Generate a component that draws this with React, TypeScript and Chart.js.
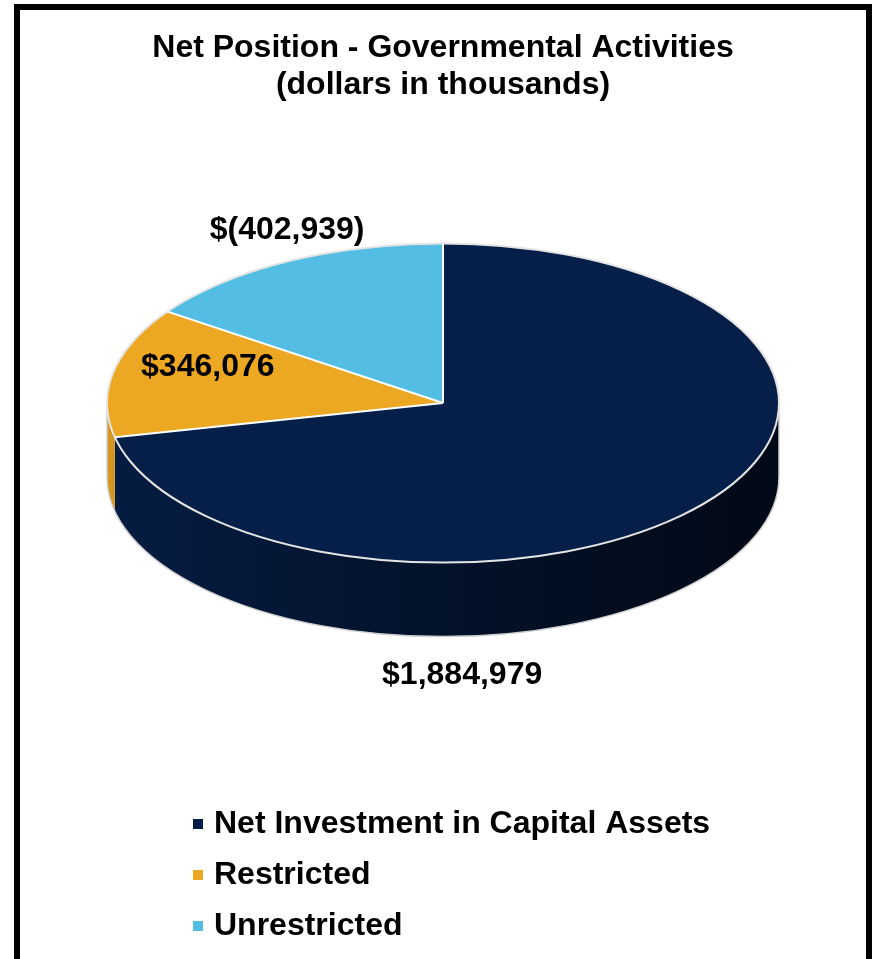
import React, { useEffect, useRef } from 'react';
import { Chart, registerables } from 'chart.js';

Chart.register(...registerables);

// ---------- data ----------
const titleLines = ['Net Position - Governmental Activities', '(dollars in thousands)'];
const categories = ['Net Investment in Capital Assets', 'Restricted', 'Unrestricted'];
const values = [1884979, 346076, -402939];

// ---------- styles ----------
const sliceColors = ['#051F49', '#EDA823', '#54BDE4'];
const FONT = '"Liberation Sans", Arial, Helvetica, sans-serif';
// label anchor relative to top-face centre, in units of (radius x, radius y)
const labelAnchors = [
  [0.057, 1.704],
  [-0.7, -0.222],
  [-0.464, -1.08],
];

function fmtMoney(v: number): string {
  const s = Math.abs(v).toLocaleString('en-US');
  return v < 0 ? `$(${s})` : `$${s}`;
}

function shade(hex: string, f: number): string {
  const n = parseInt(hex.slice(1), 16);
  const r = Math.round(((n >> 16) & 255) * f);
  const g = Math.round(((n >> 8) & 255) * f);
  const b = Math.round((n & 255) * f);
  return `rgb(${r},${g},${b})`;
}

const pie3dPlugin = {
  id: 'pie3d',
  beforeDatasetsDraw(chart: any, _args: any, opts: any) {
    const arcs = chart.getDatasetMeta(0).data as any[];
    const ctx = chart.ctx as CanvasRenderingContext2D;
    ctx.save();
    chart.$pie3dSaved = true;
    if (!arcs.length) return;
    const cx = arcs[0].x;
    const cy = arcs[0].y;
    const R = arcs[0].outerRadius;
    const ry = R * opts.tilt;
    const depth = opts.depth;
    const fy = cy - depth / 2;
    const colors = chart.data.datasets[0].backgroundColor as string[];

    // side walls (visible lower half only)
    arcs.forEach((arc: any, i: number) => {
      const a0 = Math.max(arc.startAngle, 0);
      const a1 = Math.min(arc.endAngle, Math.PI);
      if (a1 <= a0) return;
      const g = ctx.createLinearGradient(cx - R, 0, cx + R, 0);
      g.addColorStop(0, shade(colors[i], 0.9));
      g.addColorStop(0.45, shade(colors[i], 0.6));
      g.addColorStop(1, shade(colors[i], 0.3));
      ctx.beginPath();
      ctx.ellipse(cx, fy, R, ry, 0, a0, a1, false);
      ctx.ellipse(cx, fy + depth, R, ry, 0, a1, a0, true);
      ctx.closePath();
      ctx.fillStyle = g;
      ctx.fill();
    });
    ctx.beginPath();
    ctx.moveTo(cx + R, fy);
    ctx.ellipse(cx, fy + depth, R, ry, 0, 0, Math.PI, false);
    ctx.lineTo(cx - R, fy);
    ctx.strokeStyle = '#CFCFCF';
    ctx.lineWidth = 1.5;
    ctx.stroke();

    // project the library's circular pie onto the tilted top face
    ctx.translate(cx, fy);
    ctx.scale(1, opts.tilt);
    ctx.translate(-cx, -cy);
  },
  afterDatasetsDraw(chart: any, _args: any, opts: any) {
    const ctx = chart.ctx as CanvasRenderingContext2D;
    if (chart.$pie3dSaved) {
      ctx.restore();
      chart.$pie3dSaved = false;
    }
    const arcs = chart.getDatasetMeta(0).data as any[];
    if (!arcs.length) return;
    const cx = arcs[0].x;
    const cy = arcs[0].y;
    const R = arcs[0].outerRadius;
    const ry = R * opts.tilt;
    const fy = cy - opts.depth / 2;
    ctx.save();
    // rim
    ctx.beginPath();
    ctx.ellipse(cx, fy, R, ry, 0, 0, Math.PI * 2);
    ctx.strokeStyle = '#E4E4E4';
    ctx.lineWidth = 2;
    ctx.stroke();
    // slice separators
    ctx.strokeStyle = '#FFFFFF';
    ctx.lineWidth = 2;
    arcs.forEach((arc: any) => {
      ctx.beginPath();
      ctx.moveTo(cx, fy);
      ctx.lineTo(cx + R * Math.cos(arc.startAngle), fy + ry * Math.sin(arc.startAngle));
      ctx.stroke();
    });
    // value labels
    const data = chart.data.datasets[0].data as number[];
    ctx.font = `bold 32px ${FONT}`;
    ctx.fillStyle = '#000000';
    ctx.textAlign = 'center';
    ctx.textBaseline = 'middle';
    arcs.forEach((_arc: any, i: number) => {
      const [dx, dy] = opts.labelAnchors[i];
      ctx.fillText(fmtMoney(data[i]), cx + R * dx, fy + ry * dy);
    });
    ctx.restore();
  },
};

const stackedLegendPlugin = {
  id: 'stackedLegend',
  afterDraw(chart: any, _args: any, opts: any) {
    const ctx = chart.ctx as CanvasRenderingContext2D;
    const labels = chart.data.labels as string[];
    const colors = chart.data.datasets[0].backgroundColor as string[];
    ctx.save();
    ctx.font = `bold 32px ${FONT}`;
    ctx.textAlign = 'left';
    ctx.textBaseline = 'middle';
    labels.forEach((lab, i) => {
      const y = opts.top + i * opts.rowGap;
      ctx.fillStyle = colors[i];
      ctx.fillRect(opts.left, y - opts.box / 2, opts.box, opts.box);
      ctx.fillStyle = '#000000';
      ctx.fillText(lab, opts.left + opts.box + opts.gap, y);
    });
    ctx.restore();
  },
};

export default function App() {
  const canvasRef = useRef<HTMLCanvasElement | null>(null);

  useEffect(() => {
    if (!canvasRef.current) return;
    const chart = new Chart(canvasRef.current, {
      type: 'pie',
      data: {
        labels: categories,
        datasets: [
          {
            data: values,
            backgroundColor: sliceColors,
            borderWidth: 0,
            clip: false,
          } as any,
        ],
      },
      options: {
        responsive: false,
        animation: false,
        events: [],
        layout: { padding: { left: 107, right: 96, top: 0, bottom: 182.6 } },
        plugins: {
          legend: { display: false },
          tooltip: { enabled: false },
          title: {
            display: true,
            text: titleLines,
            color: '#000000',
            font: { family: FONT, size: 32, weight: 'bold', lineHeight: 1.15 },
            padding: { top: 30, bottom: 0 },
          },
          pie3d: { tilt: 0.475, depth: 74, labelAnchors },
          stackedLegend: { left: 193, top: 824, rowGap: 51, box: 10, gap: 11 },
        } as any,
      },
      plugins: [pie3dPlugin, stackedLegendPlugin],
    });
    return () => chart.destroy();
  }, []);

  return (
    <div
      style={{
        position: 'absolute',
        left: 0,
        top: 0,
        width: 875,
        height: 959,
        overflow: 'hidden',
        background: '#FFFFFF',
      }}
    >
      <canvas
        ref={canvasRef}
        width={875}
        height={959}
        style={{ position: 'absolute', left: 0, top: 0, width: 875, height: 959 }}
      />
      <div
        style={{
          position: 'absolute',
          left: 14,
          top: 4,
          width: 858,
          height: 1000,
          border: '6px solid #000000',
          boxSizing: 'border-box',
          pointerEvents: 'none',
        }}
      />
    </div>
  );
}
